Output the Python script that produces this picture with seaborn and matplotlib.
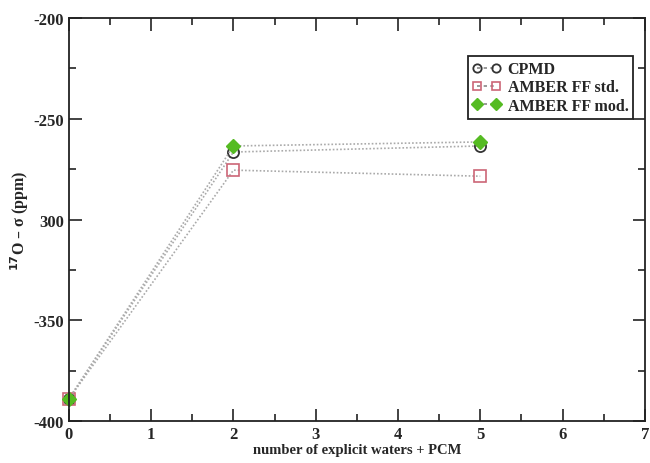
import matplotlib
matplotlib.use("Agg")
import matplotlib.pyplot as plt
import seaborn as sns
import pandas as pd
from matplotlib.ticker import MultipleLocator, FixedLocator

n_waters = [0, 2, 5]
cpmd = [-389, -266.5, -263.5]
amber_std = [-389, -275.5, -278.5]
amber_mod = [-389, -263.5, -261.5]
series_names = ["CPMD", "AMBER FF std.", "AMBER FF mod."]
yticks = [-400, -350, -300, -250, -200]
ytick_labels = ["-400", "-350", "300", "-250", "-200"]

sns.set_style("ticks")
plt.rcParams['font.family'] = ['Liberation Serif', 'DejaVu Serif']
plt.rcParams['font.weight'] = 'bold'

fig = plt.figure(figsize=(6.5, 4.64), dpi=100)
ax = fig.add_axes([0.106, 0.0905, 0.886, 0.8685])

styles = [
    dict(marker="o", mfc="none", mec="#333333", ms=8, mew=1.3),
    dict(marker="s", mfc="none", mec="#cc6677", ms=8, mew=1.2),
    dict(marker="D", mfc="#55bb22", mec="#55bb22", ms=7, mew=1.0),
]
for name, vals, st in zip(series_names, [cpmd, amber_std, amber_mod], styles):
    df = pd.DataFrame({"x": n_waters, "y": vals})
    sns.lineplot(data=df, x="x", y="y", ax=ax, color="#aaaaaa", linestyle=(0, (1, 1.2)),
                 linewidth=1.2, label=name, clip_on=False, **st)

ax.set_xlim(0, 7)
ax.set_ylim(-400, -200)
ax.xaxis.set_major_locator(MultipleLocator(1))
ax.xaxis.set_minor_locator(MultipleLocator(0.5))
ax.yaxis.set_major_locator(FixedLocator(yticks))
ax.set_yticklabels(ytick_labels)
ax.yaxis.set_minor_locator(MultipleLocator(25))
ax.tick_params(which="both", direction="in", top=True, right=True, labelsize=12, width=1.2, color="#222222")
ax.tick_params(which="major", length=9)
ax.tick_params(which="minor", length=5)
for lab in ax.get_xticklabels() + ax.get_yticklabels():
    lab.set_fontweight("bold")
for s in ax.spines.values():
    s.set_linewidth(1.3)
    s.set_color("#222222")

ax.set_xlabel("number of explicit waters + PCM", fontsize=10.5, fontweight="bold", labelpad=1)
ax.set_ylabel(r"$^{17}$O – σ (ppm)", fontsize=11.5, fontweight="bold", labelpad=2)

leg = ax.legend(loc="upper right", bbox_to_anchor=(0.98, 0.905), frameon=True, fancybox=False,
                edgecolor="#222222", framealpha=1, fontsize=11.5, handlelength=1.8, numpoints=2,
                borderpad=0.3, labelspacing=0.15, handletextpad=0.4, borderaxespad=0)
leg.get_frame().set_linewidth(1.3)
for h in leg.legend_handles:
    h.set_linestyle((0, (2, 2)))
    h.set_color("#888888")
    h.set_markersize(6)

fig.savefig("out.png", dpi=100)
